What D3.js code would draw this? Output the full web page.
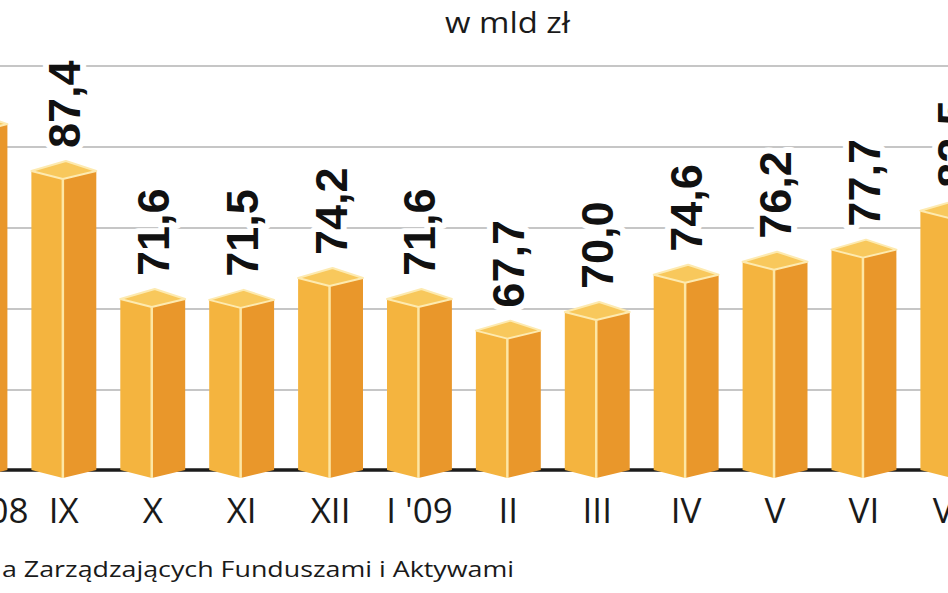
<!DOCTYPE html>
<html>
<head>
<meta charset="utf-8">
<script src="https://cdn.jsdelivr.net/npm/d3@7"></script>
<style>
  html, body { margin: 0; padding: 0; background: #fff; }
  svg { display: block; }
  .val { font-family: "Liberation Sans", Arial, sans-serif; font-weight: bold; font-size: 45px; fill: #111; }
  .lbl { font-family: "Open Sans", "DejaVu Sans", sans-serif; font-weight: 400; fill: #1a1a1a; }
</style>
</head>
<body>
<svg id="viz" width="948" height="593"></svg>
<script>
// ==== Data (w mld zł) ====
const months = ["VIII '08", "IX", "X", "XI", "XII", "I '09", "II", "III", "IV", "V", "VI", "VII"];
const values = [93.2, 87.4, 71.6, 71.5, 74.2, 71.6, 67.7, 70.0, 74.6, 76.2, 77.7, 82.5];
const gridTicks = [60, 70, 80, 90, 100];
const title = "w mld zł";
const source = "a Zarządzających Funduszami i Aktywami";

const data = months.map((m, i) => ({ month: m, value: values[i] }));

// ==== Layout ====
const W = 948, H = 593;
const svg = d3.select("#viz");

const x = d3.scaleBand()
  .domain(months)
  .range([-69.5, -69.5 + 88.9 * months.length])
  .paddingInner(0.27)
  .paddingOuter(0.135);

const y = d3.scaleLinear().domain([50, 100]).range([471, 66]);
const base = y(50);
const cx = d => x(d.month) + x.bandwidth() / 2;

const fmt = v => d3.format(".1f")(v).replace(".", ",");

// ==== Gridlines ====
svg.append("g").selectAll("line").data(gridTicks).join("line")
  .attr("x1", 0).attr("x2", W)
  .attr("y1", d => y(d)).attr("y2", d => y(d))
  .attr("stroke", "#c6c6c6").attr("stroke-width", 2);

// baseline
svg.append("line")
  .attr("x1", 0).attr("x2", W)
  .attr("y1", base - 1).attr("y2", base - 1)
  .attr("stroke", "#1b1b1b").attr("stroke-width", 3.5);

// ==== Value labels (white halo cuts gridlines) ====
// the first bar's label lies wholly left of the frame, as in the source crop
svg.append("g").selectAll("text").data(data.filter(d => cx(d) > 0)).join("text")
  .attr("class", "val")
  .attr("transform", d => `translate(${cx(d) + 16},${y(d.value) - 20}) rotate(-90)`)
  .attr("stroke", "#fff").attr("stroke-width", 12).attr("stroke-linejoin", "round")
  .attr("paint-order", "stroke")
  .text(d => fmt(d.value));

// ==== 3D bars ====
const bars = svg.append("g").selectAll("g").data(data).join("g");

function geom(d) {
  const x0 = x(d.month), x1 = x0 + x.bandwidth();
  const cf = cx(d) - 1;          // front vertical edge
  const yv = y(d.value);
  return { x0, x1, cf, yv };
}

// left face
bars.append("path")
  .attr("fill", "#f4b43f")
  .attr("d", d => {
    const g = geom(d);
    return `M${g.x0},${g.yv + 3}L${g.cf},${g.yv + 11}L${g.cf},${base + 7}L${g.x0},${base - 1}Z`;
  });

// right face
bars.append("path")
  .attr("fill", "#e9972b")
  .attr("d", d => {
    const g = geom(d);
    return `M${g.cf},${g.yv + 11}L${g.x1},${g.yv + 3}L${g.x1},${base - 1}L${g.cf},${base + 7}Z`;
  });

// top face
bars.append("path")
  .attr("fill", "#f8c85c")
  .attr("stroke", "#fdeab0").attr("stroke-width", 2).attr("stroke-linejoin", "round")
  .attr("d", d => {
    const g = geom(d);
    return `M${g.x0},${g.yv + 3}L${g.cf + 3},${g.yv - 7}L${g.x1},${g.yv + 3}L${g.cf},${g.yv + 11}Z`;
  });

// front edge highlight
bars.append("line")
  .attr("x1", d => geom(d).cf).attr("x2", d => geom(d).cf)
  .attr("y1", d => geom(d).yv + 11).attr("y2", base + 7)
  .attr("stroke", "#fde6a4").attr("stroke-width", 2.5);

// ==== Month labels ====
svg.append("g").selectAll("text").data(data).join("text")
  .attr("class", "lbl")
  .attr("x", cx)
  .attr("y", 523)
  .attr("text-anchor", "middle")
  .attr("font-size", 35)
  .text(d => d.month);

// ==== Title & source ====
svg.append("text")
  .attr("class", "lbl")
  .attr("x", 445).attr("y", 33)
  .attr("font-size", 29)
  .attr("textLength", 125).attr("lengthAdjust", "spacingAndGlyphs")
  .text(title);

svg.append("text")
  .attr("class", "lbl")
  .attr("x", 2).attr("y", 577)
  .attr("font-size", 22)
  .attr("font-weight", 300)
  .attr("fill", "#2a2a2a")
  .attr("textLength", 512).attr("lengthAdjust", "spacingAndGlyphs")
  .text(source);
</script>
</body>
</html>
